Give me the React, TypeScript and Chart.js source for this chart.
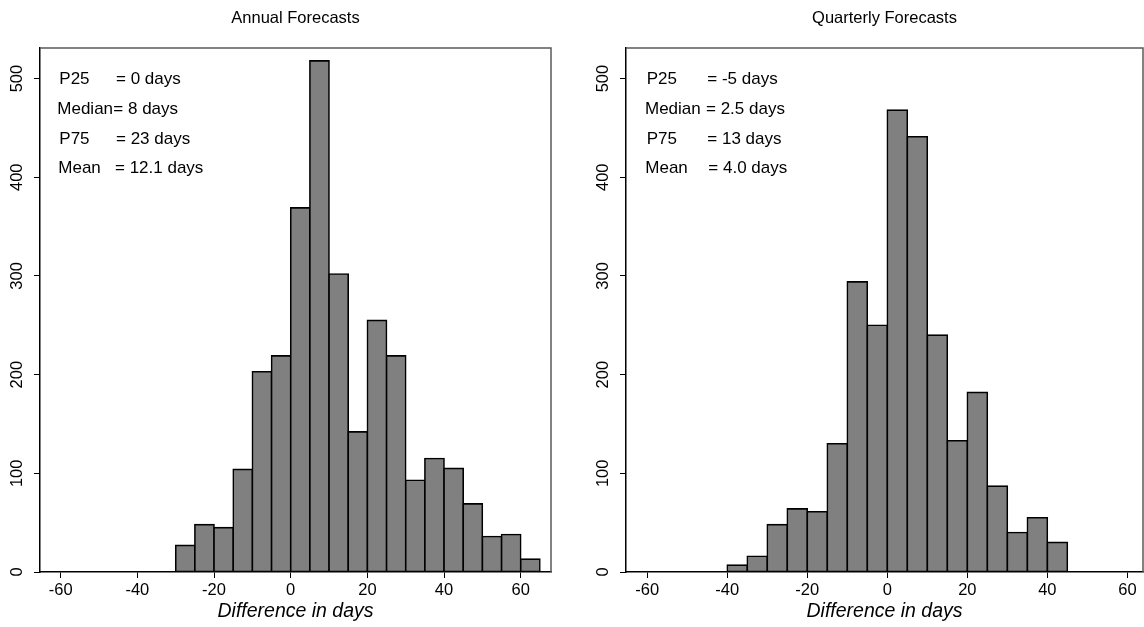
import React, { useEffect, useRef } from "react";
import { Chart, registerables } from "chart.js";

Chart.register(...registerables);

// ---------- data ----------
const binWidth = 5;
const annualBinStarts = [-30, -25, -20, -15, -10, -5, 0, 5, 10, 15, 20, 25, 30, 35, 40, 45, 50, 55, 60];
const annualCounts = [27, 48, 45, 104, 203, 219, 369, 518, 302, 142, 255, 219, 93, 115, 105, 69, 36, 38, 13];
const quarterlyBinStarts = [-40, -35, -30, -25, -20, -15, -10, -5, 0, 5, 10, 15, 20, 25, 30, 35, 40];
const quarterlyCounts = [7, 16, 48, 64, 61, 130, 294, 250, 468, 441, 240, 133, 182, 87, 40, 55, 30];
const xTicks = [-60, -40, -20, 0, 20, 40, 60];
const yTicks = [0, 100, 200, 300, 400, 500];
const statLabels = ["P25", "Median", "P75", "Mean"];
const annualStatValues = ["= 0 days", "= 8 days", "= 23 days", "= 12.1 days"];
const quarterlyStatValues = ["= -5 days", "= 2.5 days", "= 13 days", "= 4.0 days"];
const annualTitle = "Annual Forecasts";
const quarterlyTitle = "Quarterly Forecasts";
const xAxisTitle = "Difference in days";

const FONT = "'Liberation Sans', Arial, sans-serif";

type PanelCfg = {
  title: string;
  starts: number[];
  counts: number[];
  statValues: string[];
  xMin: number;
  xMax: number;
  yAxisWidth: number;
  padRight: number;
  labelX: number[];
  eqX: number[];
};

const statRowY = [31, 61, 91, 120];

function makeChart(canvas: HTMLCanvasElement, p: PanelCfg) {
  const framePlugin = {
    id: "frameAndStats",
    afterDraw(chart: any) {
      const { ctx, chartArea } = chart;
      const { left, right, top, bottom } = chartArea;
      ctx.save();
      ctx.strokeStyle = "#5a5a5a";
      ctx.lineWidth = 1.5;
      ctx.beginPath();
      ctx.moveTo(left, top);
      ctx.lineTo(right, top);
      ctx.lineTo(right, bottom);
      ctx.stroke();
      ctx.fillStyle = "#000";
      ctx.font = `17px ${FONT}`;
      ctx.textBaseline = "middle";
      ctx.textAlign = "left";
      statLabels.forEach((lab, i) => {
        ctx.fillText(lab, left + p.labelX[i], top + statRowY[i]);
        ctx.fillText(p.statValues[i], left + p.eqX[i], top + statRowY[i]);
      });
      ctx.restore();
    },
  };

  return new Chart(canvas, {
    type: "bar",
    data: {
      datasets: [
        {
          data: p.starts.map((s, i) => ({ x: s + binWidth / 2, y: p.counts[i] })),
          backgroundColor: "#808080",
          borderColor: "#000",
          borderWidth: 1.6,
          borderSkipped: false,
          inflateAmount: 0.8,
          barPercentage: 1,
          categoryPercentage: 1,
        } as any,
      ],
    },
    options: {
      animation: false,
      responsive: false,
      maintainAspectRatio: false,
      devicePixelRatio: 1,
      layout: { padding: { top: 0, left: 0, right: p.padRight, bottom: 0 } },
      plugins: {
        legend: { display: false },
        tooltip: { enabled: false },
        title: {
          display: true,
          text: p.title,
          fullSize: false,
          color: "#000",
          font: { family: FONT, size: 16.5, weight: "normal" as any, lineHeight: 1.2 },
          padding: { top: 8.1, bottom: 20.1 },
        },
      },
      scales: {
        x: {
          type: "linear",
          min: p.xMin,
          max: p.xMax,
          offset: false,
          afterBuildTicks: (s: any) => {
            s.ticks = xTicks.map((v) => ({ value: v }));
          },
          afterFit: (s: any) => {
            s.height = 55;
          },
          ticks: {
            color: "#000",
            font: { family: FONT, size: 16.5 },
            padding: 3,
            maxRotation: 0,
            minRotation: 0,
            autoSkip: false,
          },
          grid: {
            display: true,
            drawOnChartArea: false,
            drawTicks: true,
            tickLength: 6,
            tickColor: "#000",
            tickWidth: 1,
            offset: false,
          },
          border: { display: true, color: "#000", width: 1.5 },
          title: {
            display: true,
            text: xAxisTitle,
            color: "#000",
            font: { family: FONT, size: 19.5, style: "italic", lineHeight: 1.2 },
            padding: { top: 0, bottom: 4 },
          },
        },
        y: {
          type: "linear",
          min: 0,
          max: 531,
          afterBuildTicks: (s: any) => {
            s.ticks = yTicks.map((v) => ({ value: v }));
          },
          afterFit: (s: any) => {
            s.width = p.yAxisWidth;
          },
          ticks: {
            color: "#000",
            font: { family: FONT, size: 16.5 },
            padding: 3,
            minRotation: 90,
            maxRotation: 90,
            crossAlign: "center",
          },
          grid: {
            display: true,
            drawOnChartArea: false,
            drawTicks: true,
            tickLength: 6,
            tickColor: "#000",
            tickWidth: 1,
          },
          border: { display: true, color: "#000", width: 1.5 },
        },
      },
    },
    plugins: [framePlugin],
  });
}

function Panel({ cfg, left, width }: { cfg: PanelCfg; left: number; width: number }) {
  const ref = useRef<HTMLCanvasElement>(null);
  useEffect(() => {
    if (!ref.current) return;
    const chart = makeChart(ref.current, cfg);
    return () => chart.destroy();
  }, []);
  return (
    <canvas
      ref={ref}
      width={width}
      height={627}
      style={{ position: "absolute", left, top: 0, width, height: 627 }}
    />
  );
}

const annualCfg: PanelCfg = {
  title: annualTitle,
  starts: annualBinStarts,
  counts: annualCounts,
  statValues: annualStatValues,
  xMin: -65.4,
  xMax: 67.9,
  yAxisWidth: 40,
  padRight: 29,
  labelX: [19.3, 17.3, 19.3, 18.3],
  eqX: [76, 73.3, 76, 75],
};

const quarterlyCfg: PanelCfg = {
  title: quarterlyTitle,
  starts: quarterlyBinStarts,
  counts: quarterlyCounts,
  statValues: quarterlyStatValues,
  xMin: -65.3,
  xMax: 63.9,
  yAxisWidth: 46,
  padRight: 1,
  labelX: [20.7, 19, 20.7, 19.3],
  eqX: [81.3, 80, 81.3, 82.3],
};

export default function App() {
  return (
    <div
      style={{
        position: "absolute",
        left: 0,
        top: 0,
        width: 1144,
        height: 627,
        background: "#fff",
        overflow: "hidden",
      }}
    >
      <Panel cfg={annualCfg} left={0} width={580} />
      <Panel cfg={quarterlyCfg} left={580} width={564} />
    </div>
  );
}
